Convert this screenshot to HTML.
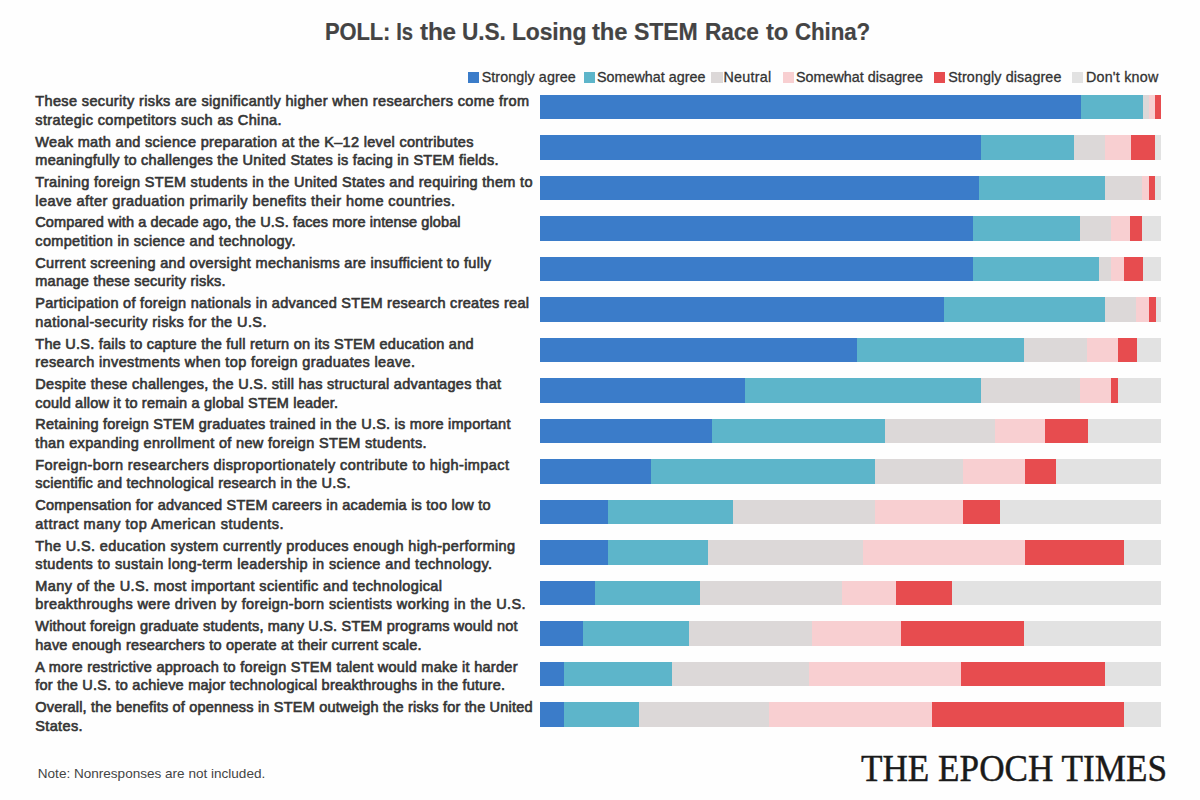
<!DOCTYPE html>
<html><head><meta charset="utf-8"><style>
html,body{margin:0;padding:0;}
body{width:1200px;height:800px;position:relative;overflow:hidden;background:#fefefe;font-family:"Liberation Sans",sans-serif;color:#333;}
.tw{position:absolute;white-space:nowrap;transform-origin:1.5px 0;top:20.53px;font-size:23.0px;line-height:23.0px;font-weight:bold;color:#444;letter-spacing:-0.12px;-webkit-text-stroke:0.2px #444;}
.lab{position:absolute;left:35.3px;font-size:14.5px;line-height:14.5px;font-weight:normal;white-space:nowrap;color:#353535;-webkit-text-stroke:0.62px #353535;}
.bar{position:absolute;left:540.0px;width:621.25px;height:24.6px;}
.s{position:absolute;top:0;height:100%;}
.sq{position:absolute;top:71.8px;width:11.3px;height:11.3px;}
.lt{position:absolute;font-size:14.3px;line-height:14.3px;white-space:nowrap;color:#333;-webkit-text-stroke:0.3px #333;}
.note{position:absolute;left:37.8px;top:766.73px;font-size:13.55px;line-height:13.55px;white-space:nowrap;color:#444;}
.logo{position:absolute;left:860.5px;top:748.57px;font-family:"Liberation Serif",serif;font-size:38px;line-height:38px;white-space:nowrap;color:#1a1a1a;transform-origin:0 0;transform:scaleX(0.925);-webkit-text-stroke:0.45px #1a1a1a;}
</style></head><body>
<div class="tw" style="left:324.80px;top:20.53px;transform:scaleX(0.953)">POLL:</div><div class="tw" style="left:395.60px;top:20.53px;transform:scaleX(0.878)">Is</div><div class="tw" style="left:420.00px;top:20.53px;transform:scaleX(1.056)">the</div><div class="tw" style="left:462.30px;top:20.53px;transform:scaleX(0.984)">U.S.</div><div class="tw" style="left:512.00px;top:20.53px;transform:scaleX(0.995)">Losing</div><div class="tw" style="left:592.00px;top:20.53px;transform:scaleX(1.035)">the</div><div class="tw" style="left:634.00px;top:20.53px;transform:scaleX(1.004)">STEM</div><div class="tw" style="left:704.80px;top:20.53px;transform:scaleX(0.983)">Race</div><div class="tw" style="left:765.70px;top:20.53px;transform:scaleX(1.033)">to</div><div class="tw" style="left:795.10px;top:20.53px;transform:scaleX(0.971)">China?</div>
<div class="sq" style="left:467.8px;background:#3b7cc9"></div><div class="lt" style="left:481.7px;top:70.10px;letter-spacing:0.085px">Strongly agree</div><div class="sq" style="left:584px;background:#5db5ca"></div><div class="lt" style="left:597.0px;top:70.10px;letter-spacing:0.03px">Somewhat agree</div><div class="sq" style="left:711.3px;background:#dcd8d8"></div><div class="lt" style="left:723.5px;top:70.10px;letter-spacing:0.25px">Neutral</div><div class="sq" style="left:783px;background:#f8cfd1"></div><div class="lt" style="left:796.0px;top:70.10px;letter-spacing:0.03px">Somewhat disagree</div><div class="sq" style="left:934.2px;background:#e74c4f"></div><div class="lt" style="left:948.2px;top:70.10px;letter-spacing:0.12px">Strongly disagree</div><div class="sq" style="left:1071.7px;background:#e2e2e2"></div><div class="lt" style="left:1085.9px;top:70.10px;letter-spacing:0.24px">Don't know</div>
<div class="lab" style="top:94.33px;letter-spacing:0.36px">These security risks are significantly higher when researchers come from</div>
<div class="lab" style="top:112.88px;letter-spacing:0.357px">strategic competitors such as China.</div>
<div class="lab" style="top:134.71px;letter-spacing:0.311px">Weak math and science preparation at the K–12 level contributes</div>
<div class="lab" style="top:153.26px;letter-spacing:0.265px">meaningfully to challenges the United States is facing in STEM fields.</div>
<div class="lab" style="top:175.09px;letter-spacing:0.308px">Training foreign STEM students in the United States and requiring them to</div>
<div class="lab" style="top:193.64px;letter-spacing:0.426px">leave after graduation primarily benefits their home countries.</div>
<div class="lab" style="top:215.47px;letter-spacing:0.1px">Compared with a decade ago, the U.S. faces more intense global</div>
<div class="lab" style="top:234.02px;letter-spacing:0.33px">competition in science and technology.</div>
<div class="lab" style="top:255.85px;letter-spacing:0.309px">Current screening and oversight mechanisms are insufficient to fully</div>
<div class="lab" style="top:274.40px;letter-spacing:0.237px">manage these security risks.</div>
<div class="lab" style="top:296.23px;letter-spacing:0.286px">Participation of foreign nationals in advanced STEM research creates real</div>
<div class="lab" style="top:314.78px;letter-spacing:0.411px">national-security risks for the U.S.</div>
<div class="lab" style="top:336.61px;letter-spacing:0.241px">The U.S. fails to capture the full return on its STEM education and</div>
<div class="lab" style="top:355.16px;letter-spacing:0.366px">research investments when top foreign graduates leave.</div>
<div class="lab" style="top:376.99px;letter-spacing:0.286px">Despite these challenges, the U.S. still has structural advantages that</div>
<div class="lab" style="top:395.54px;letter-spacing:0.189px">could allow it to remain a global STEM leader.</div>
<div class="lab" style="top:417.37px;letter-spacing:0.24px">Retaining foreign STEM graduates trained in the U.S. is more important</div>
<div class="lab" style="top:435.92px;letter-spacing:0.334px">than expanding enrollment of new foreign STEM students.</div>
<div class="lab" style="top:457.75px;letter-spacing:0.424px">Foreign-born researchers disproportionately contribute to high-impact</div>
<div class="lab" style="top:476.30px;letter-spacing:0.219px">scientific and technological research in the U.S.</div>
<div class="lab" style="top:498.13px;letter-spacing:0.227px">Compensation for advanced STEM careers in academia is too low to</div>
<div class="lab" style="top:516.68px;letter-spacing:0.497px">attract many top American students.</div>
<div class="lab" style="top:538.51px;letter-spacing:0.368px">The U.S. education system currently produces enough high-performing</div>
<div class="lab" style="top:557.06px;letter-spacing:0.39px">students to sustain long-term leadership in science and technology.</div>
<div class="lab" style="top:578.89px;letter-spacing:0.378px">Many of the U.S. most important scientific and technological</div>
<div class="lab" style="top:597.44px;letter-spacing:0.389px">breakthroughs were driven by foreign-born scientists working in the U.S.</div>
<div class="lab" style="top:619.27px;letter-spacing:0.196px">Without foreign graduate students, many U.S. STEM programs would not</div>
<div class="lab" style="top:637.82px;letter-spacing:0.228px">have enough researchers to operate at their current scale.</div>
<div class="lab" style="top:659.65px;letter-spacing:0.268px">A more restrictive approach to foreign STEM talent would make it harder</div>
<div class="lab" style="top:678.20px;letter-spacing:0.224px">for the U.S. to achieve major technological breakthroughs in the future.</div>
<div class="lab" style="top:700.03px;letter-spacing:0.195px">Overall, the benefits of openness in STEM outweigh the risks for the United</div>
<div class="lab" style="top:718.58px;letter-spacing:0.35px">States.</div>
<div class="bar" style="top:94.60px"><div class="s" style="left:0.00px;right:0;background:#3b7cc9"></div><div class="s" style="left:541.40px;right:0;background:#5db5ca"></div><div class="s" style="left:602.80px;right:0;background:#dcd8d8"></div><div class="s" style="left:609.00px;right:0;background:#f8cfd1"></div><div class="s" style="left:614.80px;right:0;background:#e74c4f"></div></div>
<div class="bar" style="top:135.10px"><div class="s" style="left:0.00px;right:0;background:#3b7cc9"></div><div class="s" style="left:441.00px;right:0;background:#5db5ca"></div><div class="s" style="left:534.40px;right:0;background:#dcd8d8"></div><div class="s" style="left:564.60px;right:0;background:#f8cfd1"></div><div class="s" style="left:590.60px;right:0;background:#e74c4f"></div><div class="s" style="left:615.00px;right:0;background:#e2e2e2"></div></div>
<div class="bar" style="top:175.60px"><div class="s" style="left:0.00px;right:0;background:#3b7cc9"></div><div class="s" style="left:439.40px;right:0;background:#5db5ca"></div><div class="s" style="left:565.00px;right:0;background:#dcd8d8"></div><div class="s" style="left:602.00px;right:0;background:#f8cfd1"></div><div class="s" style="left:609.00px;right:0;background:#e74c4f"></div><div class="s" style="left:614.60px;right:0;background:#e2e2e2"></div></div>
<div class="bar" style="top:216.10px"><div class="s" style="left:0.00px;right:0;background:#3b7cc9"></div><div class="s" style="left:432.60px;right:0;background:#5db5ca"></div><div class="s" style="left:540.00px;right:0;background:#dcd8d8"></div><div class="s" style="left:570.60px;right:0;background:#f8cfd1"></div><div class="s" style="left:590.00px;right:0;background:#e74c4f"></div><div class="s" style="left:602.40px;right:0;background:#e2e2e2"></div></div>
<div class="bar" style="top:256.60px"><div class="s" style="left:0.00px;right:0;background:#3b7cc9"></div><div class="s" style="left:433.00px;right:0;background:#5db5ca"></div><div class="s" style="left:558.70px;right:0;background:#dcd8d8"></div><div class="s" style="left:571.30px;right:0;background:#f8cfd1"></div><div class="s" style="left:583.80px;right:0;background:#e74c4f"></div><div class="s" style="left:602.60px;right:0;background:#e2e2e2"></div></div>
<div class="bar" style="top:297.10px"><div class="s" style="left:0.00px;right:0;background:#3b7cc9"></div><div class="s" style="left:404.00px;right:0;background:#5db5ca"></div><div class="s" style="left:565.40px;right:0;background:#dcd8d8"></div><div class="s" style="left:596.00px;right:0;background:#f8cfd1"></div><div class="s" style="left:608.90px;right:0;background:#e74c4f"></div><div class="s" style="left:615.50px;right:0;background:#e2e2e2"></div></div>
<div class="bar" style="top:337.60px"><div class="s" style="left:0.00px;right:0;background:#3b7cc9"></div><div class="s" style="left:316.70px;right:0;background:#5db5ca"></div><div class="s" style="left:484.30px;right:0;background:#dcd8d8"></div><div class="s" style="left:547.00px;right:0;background:#f8cfd1"></div><div class="s" style="left:578.00px;right:0;background:#e74c4f"></div><div class="s" style="left:596.70px;right:0;background:#e2e2e2"></div></div>
<div class="bar" style="top:378.10px"><div class="s" style="left:0.00px;right:0;background:#3b7cc9"></div><div class="s" style="left:205.00px;right:0;background:#5db5ca"></div><div class="s" style="left:440.80px;right:0;background:#dcd8d8"></div><div class="s" style="left:540.00px;right:0;background:#f8cfd1"></div><div class="s" style="left:571.30px;right:0;background:#e74c4f"></div><div class="s" style="left:578.00px;right:0;background:#e2e2e2"></div></div>
<div class="bar" style="top:418.60px"><div class="s" style="left:0.00px;right:0;background:#3b7cc9"></div><div class="s" style="left:172.20px;right:0;background:#5db5ca"></div><div class="s" style="left:344.90px;right:0;background:#dcd8d8"></div><div class="s" style="left:455.00px;right:0;background:#f8cfd1"></div><div class="s" style="left:505.00px;right:0;background:#e74c4f"></div><div class="s" style="left:547.50px;right:0;background:#e2e2e2"></div></div>
<div class="bar" style="top:459.10px"><div class="s" style="left:0.00px;right:0;background:#3b7cc9"></div><div class="s" style="left:111.30px;right:0;background:#5db5ca"></div><div class="s" style="left:335.40px;right:0;background:#dcd8d8"></div><div class="s" style="left:422.60px;right:0;background:#f8cfd1"></div><div class="s" style="left:484.50px;right:0;background:#e74c4f"></div><div class="s" style="left:516.00px;right:0;background:#e2e2e2"></div></div>
<div class="bar" style="top:499.60px"><div class="s" style="left:0.00px;right:0;background:#3b7cc9"></div><div class="s" style="left:68.20px;right:0;background:#5db5ca"></div><div class="s" style="left:192.70px;right:0;background:#dcd8d8"></div><div class="s" style="left:335.00px;right:0;background:#f8cfd1"></div><div class="s" style="left:422.60px;right:0;background:#e74c4f"></div><div class="s" style="left:460.40px;right:0;background:#e2e2e2"></div></div>
<div class="bar" style="top:540.10px"><div class="s" style="left:0.00px;right:0;background:#3b7cc9"></div><div class="s" style="left:68.20px;right:0;background:#5db5ca"></div><div class="s" style="left:167.50px;right:0;background:#dcd8d8"></div><div class="s" style="left:322.80px;right:0;background:#f8cfd1"></div><div class="s" style="left:484.50px;right:0;background:#e74c4f"></div><div class="s" style="left:583.70px;right:0;background:#e2e2e2"></div></div>
<div class="bar" style="top:580.60px"><div class="s" style="left:0.00px;right:0;background:#3b7cc9"></div><div class="s" style="left:55.10px;right:0;background:#5db5ca"></div><div class="s" style="left:159.60px;right:0;background:#dcd8d8"></div><div class="s" style="left:301.80px;right:0;background:#f8cfd1"></div><div class="s" style="left:356.40px;right:0;background:#e74c4f"></div><div class="s" style="left:412.00px;right:0;background:#e2e2e2"></div></div>
<div class="bar" style="top:621.10px"><div class="s" style="left:0.00px;right:0;background:#3b7cc9"></div><div class="s" style="left:43.00px;right:0;background:#5db5ca"></div><div class="s" style="left:149.00px;right:0;background:#dcd8d8"></div><div class="s" style="left:272.40px;right:0;background:#f8cfd1"></div><div class="s" style="left:360.60px;right:0;background:#e74c4f"></div><div class="s" style="left:484.00px;right:0;background:#e2e2e2"></div></div>
<div class="bar" style="top:661.60px"><div class="s" style="left:0.00px;right:0;background:#3b7cc9"></div><div class="s" style="left:24.10px;right:0;background:#5db5ca"></div><div class="s" style="left:131.80px;right:0;background:#dcd8d8"></div><div class="s" style="left:268.80px;right:0;background:#f8cfd1"></div><div class="s" style="left:420.50px;right:0;background:#e74c4f"></div><div class="s" style="left:564.80px;right:0;background:#e2e2e2"></div></div>
<div class="bar" style="top:702.10px"><div class="s" style="left:0.00px;right:0;background:#3b7cc9"></div><div class="s" style="left:24.10px;right:0;background:#5db5ca"></div><div class="s" style="left:98.70px;right:0;background:#dcd8d8"></div><div class="s" style="left:229.40px;right:0;background:#f8cfd1"></div><div class="s" style="left:391.60px;right:0;background:#e74c4f"></div><div class="s" style="left:583.70px;right:0;background:#e2e2e2"></div></div>
<div class="note">Note: Nonresponses are not included.</div>
<div class="logo">THE EPOCH TIMES</div>
</body></html>
